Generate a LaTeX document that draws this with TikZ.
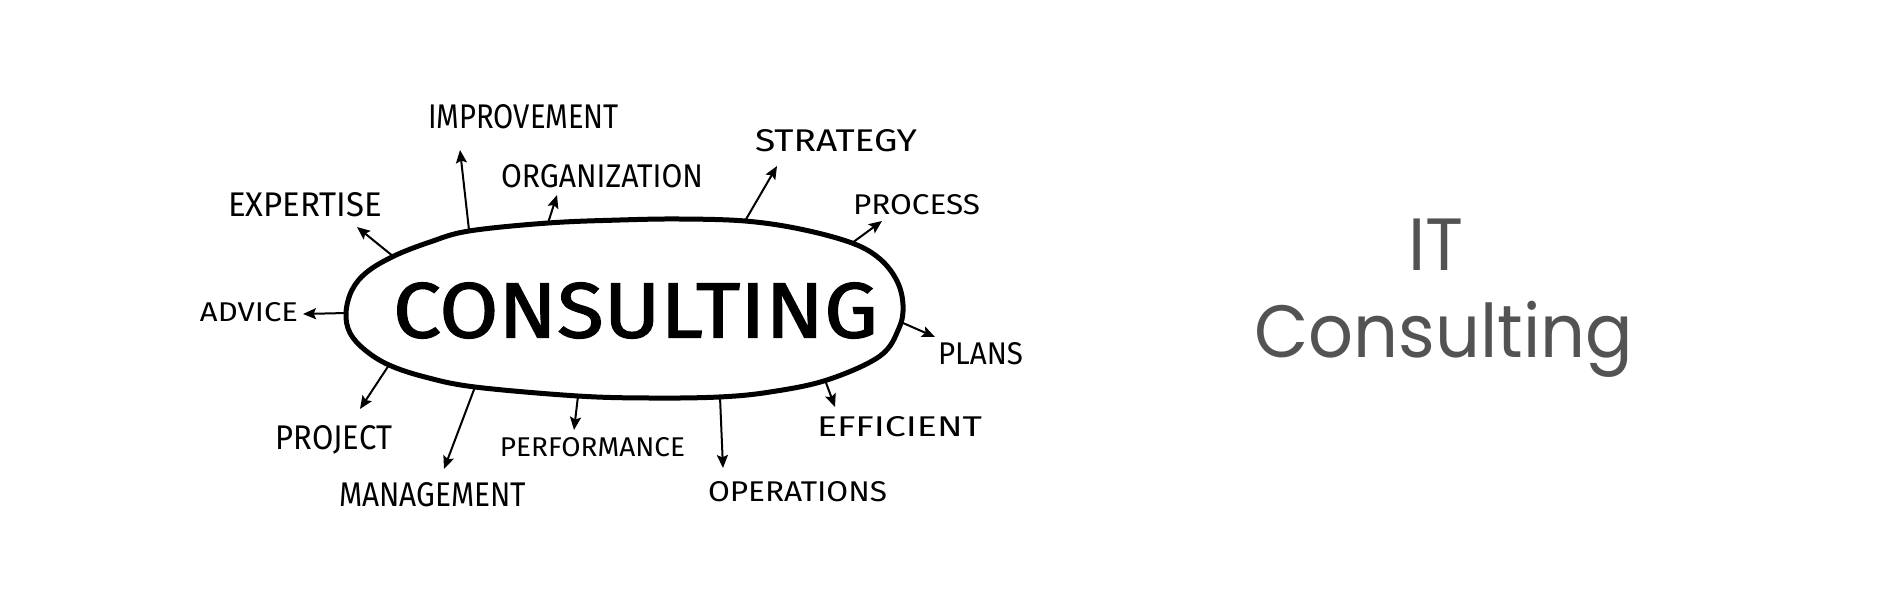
\documentclass[tikz,border=0pt]{standalone}
\usepackage{fontspec}
\usepackage{graphicx}
\usetikzlibrary{arrows.meta}
\newfontfamily\handfont{Fira Sans}
\newfontfamily\bighand[FakeBold=1.6]{Fira Sans}
\newfontfamily\titlefont[FakeStretch=0.95]{Poppins}
\definecolor{titlegray}{RGB}{83,83,83}
\newcommand\fitlbl[3]{\resizebox{#1pt}{#2pt}{\handfont #3}}
\tikzset{
  lbl/.style={inner sep=0pt, anchor=center},
  arr/.style={line width=1pt, line cap=round, -{Stealth[length=6.5pt,width=5.5pt,inset=1.2pt]}},
  bubble/.style={line width=2.5pt, line join=round},
  titletext/.style={inner sep=0pt, anchor=base, text=titlegray, font=\titlefont\fontsize{37}{40}\selectfont},
}
\begin{document}
\begin{tikzpicture}[x=0.5pt, y=-0.5pt]
\path[use as bounding box, fill=white] (0,0) rectangle (1900,600);

% hand-drawn bubble
\draw[bubble] plot[smooth cycle, tension=0.6] coordinates {
 (346,313) (352,290) (367,272) (394,256) (430,242) (469,231) (548,223) (620,220)
 (680,219) (745,221) (800,229) (852,243) (880,259) (897,281) (903,305) (899,328)
 (880,356) (827,380) (770,392) (719,397) (650,398) (578,396) (475,387) (425,377)
 (389,365) (365,350) (350,333)};
\node[lbl] (consulting) at (635.5,310.5) {\resizebox{242.5pt}{27.5pt}{\bighand CONSULTING}};

% labels
\node[lbl] (improvement) at (523.5,116.5) {\fitlbl{95.5}{12}{IMPROVEMENT}};
\node[lbl] (organization) at (602,176.5) {\fitlbl{101}{11.5}{ORGANIZATION}};
\node[lbl] (expertise) at (305,204.5) {\fitlbl{77}{12}{EXPERTISE}};
\node[lbl] (strategy) at (836,141) {\fitlbl{81}{11}{STRATEGY}};
\node[lbl] (process) at (916.5,205) {\fitlbl{63.5}{10}{PROCESS}};
\node[lbl] (advice) at (249,312.5) {\fitlbl{49}{9.5}{ADVICE}};
\node[lbl] (plans) at (980.5,354) {\fitlbl{42.5}{11}{PLANS}};
\node[lbl] (project) at (334,440) {\fitlbl{58}{12}{PROJECT}};
\node[lbl] (management) at (432.5,495) {\fitlbl{93.5}{12}{MANAGEMENT}};
\node[lbl] (performance) at (592.5,447.5) {\fitlbl{92.5}{9.5}{PERFORMANCE}};
\node[lbl] (efficient) at (899.5,427) {\fitlbl{82.5}{10}{EFFICIENT}};
\node[lbl] (operations) at (797.5,492) {\fitlbl{89.5}{10}{OPERATIONS}};

% arrow end points
\coordinate (bExp) at (394,257);  \coordinate (tExp) at (357,227);
\coordinate (bImp) at (469,230);  \coordinate (tImp) at (460,150);
\coordinate (bOrg) at (548,223);  \coordinate (tOrg) at (557,195);
\coordinate (bStr) at (745,221);  \coordinate (tStr) at (777,166);
\coordinate (bPro) at (852,243);  \coordinate (tPro) at (882,221);
\coordinate (bAdv) at (346,313);  \coordinate (tAdv) at (303,314);
\coordinate (bPla) at (903,323);  \coordinate (tPla) at (935,337);
\coordinate (bEff) at (825,380);  \coordinate (tEff) at (835,407);
\coordinate (bOpe) at (720,397);  \coordinate (tOpe) at (723,468);
\coordinate (bPer) at (578,396);  \coordinate (tPer) at (574,430);
\coordinate (bMan) at (475,387);  \coordinate (tMan) at (444,469);
\coordinate (bPrj) at (389,365);  \coordinate (tPrj) at (360,409);

\foreach \n in {Exp,Imp,Org,Str,Pro,Adv,Pla,Eff,Ope,Per,Man,Prj}
  \draw[arr] (b\n) -- (t\n);

% title
\node[titletext] (it) at (1436,270) {IT};
\node[titletext] (itconsulting) at (1444,357) {Consulting};
\end{tikzpicture}
\end{document}
